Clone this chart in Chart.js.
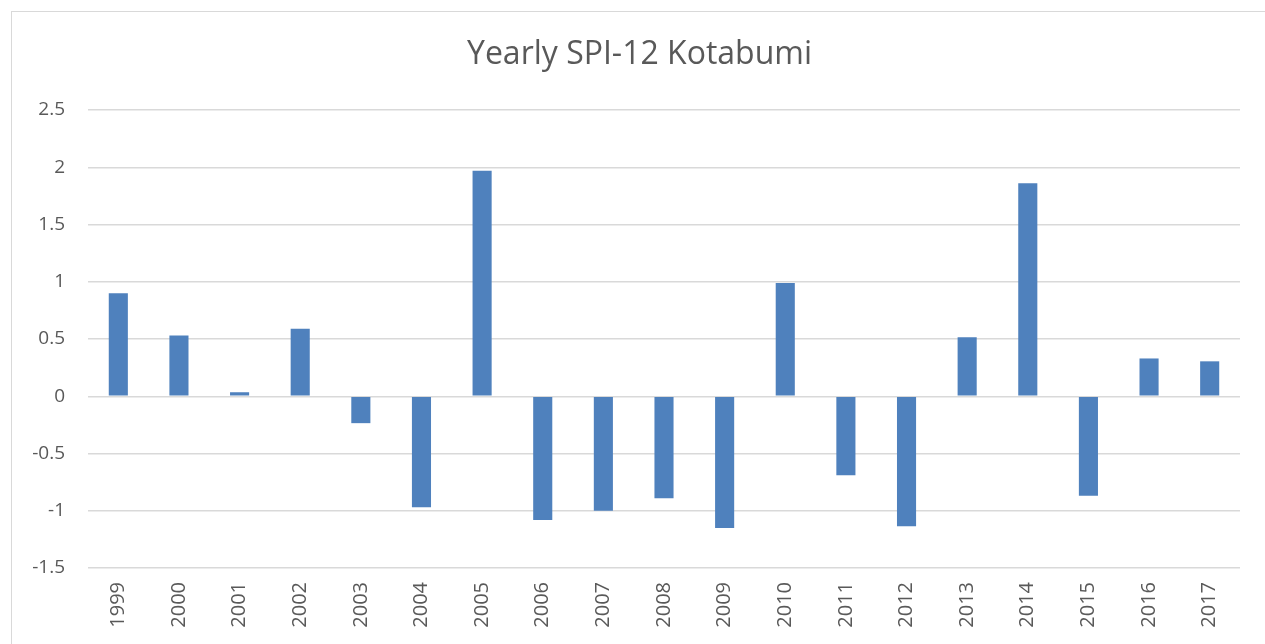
<!DOCTYPE html>
<html>
<head>
<meta charset="utf-8">
<script src="https://cdn.jsdelivr.net/npm/chart.js@4"></script>
<style>
    body { margin: 0; background: #fff; overflow: hidden; }
    #frame {
        position: absolute; left: 11px; top: 11px; width: 1300px; height: 700px;
        border-left: 1px solid #d9d9d9; border-top: 1px solid #d9d9d9;
    }
    #wrap { position: absolute; left: 0; top: 0; width: 1265px; height: 644px; }
</style>
</head>
<body>
<div id="frame"></div>
<div id="wrap"><canvas id="spiChart"></canvas></div>
<script>
// ===================== Data =====================
const years = ['1999', '2000', '2001', '2002', '2003', '2004', '2005', '2006', '2007', '2008',
               '2009', '2010', '2011', '2012', '2013', '2014', '2015', '2016', '2017'];
const spiValues = [0.90, 0.53, 0.035, 0.59, -0.235, -0.97, 1.97, -1.08, -1.00, -0.89,
                   -1.15, 0.99, -0.69, -1.135, 0.515, 1.86, -0.87, 0.33, 0.305];
const yTicks = [-1.5, -1, -0.5, 0, 0.5, 1, 1.5, 2, 2.5];

const textColor = '#595959';
const fontFamily = "'Open Sans', 'Liberation Sans', sans-serif";

// ===================== Chart =====================
const ctx = document.getElementById('spiChart').getContext('2d');
const spiChart = new Chart(ctx, {
    type: 'bar',
    data: {
        labels: years,
        datasets: [{
            label: 'SPI-12',
            data: spiValues,
            backgroundColor: '#4f81bd',
            borderWidth: 0,
            barPercentage: 0.315,
            categoryPercentage: 1
        }]
    },
    options: {
        responsive: true,
        maintainAspectRatio: false,
        animation: false,
        layout: { padding: { left: 14, right: 0, top: 0, bottom: 0 } },
        plugins: {
            legend: { display: false },
            tooltip: { enabled: false },
            title: {
                display: true,
                text: 'Yearly SPI-12 Kotabumi',
                color: textColor,
                font: { family: fontFamily, size: 32, weight: 'normal', lineHeight: 1.2 },
                padding: { top: 36, bottom: 35.6 }
            }
        },
        scales: {
            x: {
                grid: { display: false, drawTicks: false },
                border: { display: false },
                ticks: {
                    color: textColor,
                    font: { family: fontFamily, size: 20 },
                    minRotation: 90,
                    maxRotation: 90,
                    padding: 14,
                    autoSkip: false
                },
                afterFit: axis => { axis.height = 76; }
            },
            y: {
                min: -1.5,
                max: 2.5,
                afterBuildTicks: axis => { axis.ticks = yTicks.map(v => ({ value: v })); },
                grid: { color: '#d9d9d9', lineWidth: 1.5, drawTicks: false },
                border: { display: false },
                ticks: {
                    color: textColor,
                    font: { family: fontFamily, size: 19 },
                    padding: 23,
                    callback: v => String(v)
                },
                afterFit: axis => { axis.width = 74; }
            },
            // empty right margin so the title centres over the whole frame
            yRight: {
                type: 'linear',
                position: 'right',
                grid: { display: false, drawTicks: false },
                border: { display: false },
                ticks: { display: false },
                afterFit: axis => { axis.width = 25; }
            }
        }
    }
});
</script>
</body>
</html>
